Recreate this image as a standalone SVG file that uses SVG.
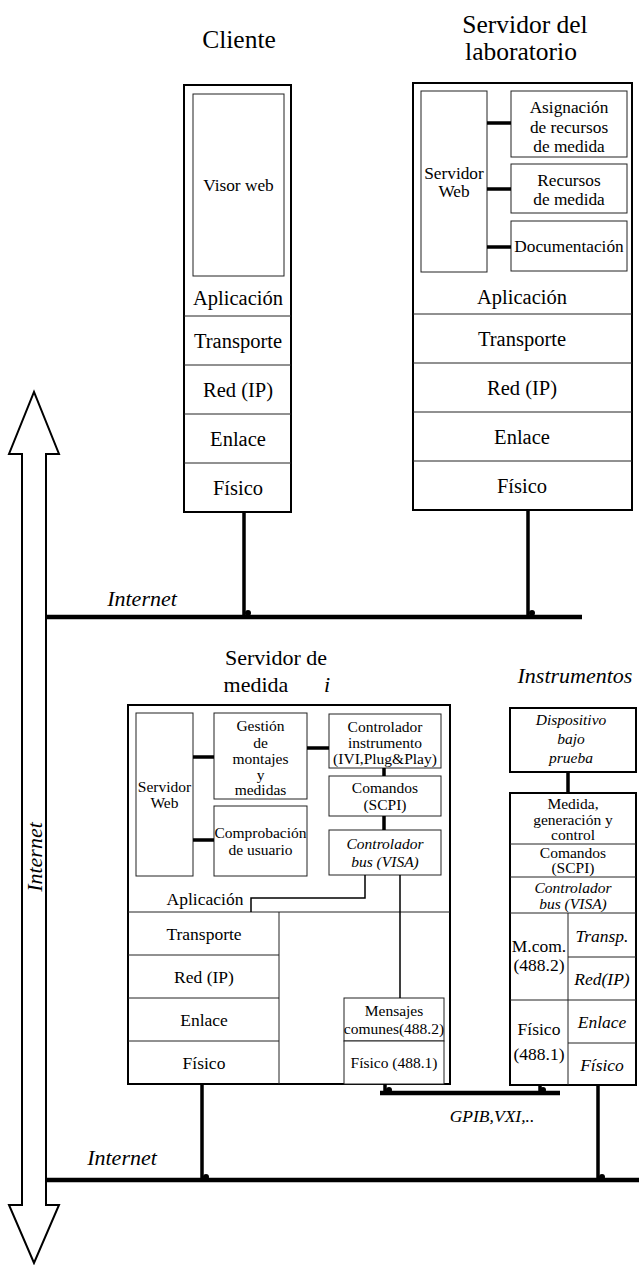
<svg xmlns="http://www.w3.org/2000/svg" width="639" height="1265" viewBox="0 0 639 1265" font-family="'Liberation Serif', 'Times New Roman', 'DejaVu Serif', serif">
  <style>
    text { font-family: 'Liberation Serif', 'Times New Roman', 'DejaVu Serif', serif; fill: #000; text-anchor: middle; }
    .it { font-style: italic; }
    .title { font-size: 25.5px; }
    .title2 { font-size: 22px; }
    .layer { font-size: 20.5px; }
    .layer2 { font-size: 17.5px; }
    .lbl { font-size: 17.3px; }
    .lbl2 { font-size: 15.5px; }
    .outer { fill: #fff; stroke: #000; stroke-width: 2; }
    .box { fill: #fff; stroke: #222; stroke-width: 1; }
    .div { stroke: #222; stroke-width: 1; fill: none; }
    .link { stroke: #000; stroke-width: 3.5; fill: none; }
    .wire { stroke: #000; stroke-width: 1.5; fill: none; }
    .net { stroke: #000; stroke-width: 4.5; fill: none; }
    .dot { fill: #000; }
  </style>

  <!-- Client -->
  <g id="cliente">
    <text class="title" x="239" y="48">Cliente</text>
    <rect class="outer" x="184" y="85" width="107" height="427"/>
    <rect class="box" x="193" y="94" width="91" height="182"/>
    <text class="lbl" x="238.5" y="191">Visor web</text>
    <text class="layer" x="238" y="305">Aplicación</text>
    <path class="div" d="M184 316H291M184 365H291M184 414H291M184 463H291"/>
    <text class="layer" x="238" y="348">Transporte</text>
    <text class="layer" x="238" y="397">Red (IP)</text>
    <text class="layer" x="238" y="446">Enlace</text>
    <text class="layer" x="238" y="495">Físico</text>
  </g>

  <!-- Lab server -->
  <g id="servidor-laboratorio">
    <text class="title" x="525" y="33">Servidor del</text>
    <text class="title" x="521" y="60">laboratorio</text>
    <rect class="outer" x="413" y="83" width="219" height="427"/>
    <rect class="box" x="421" y="91" width="66" height="181"/>
    <text class="lbl" x="454" y="179">Servidor</text>
    <text class="lbl" x="454" y="197">Web</text>
    <rect class="box" x="511" y="91" width="116" height="66"/>
    <text class="lbl" x="569" y="113">Asignación</text>
    <text class="lbl" x="569" y="133">de recursos</text>
    <text class="lbl" x="569" y="152">de medida</text>
    <rect class="box" x="511" y="164" width="116" height="49"/>
    <text class="lbl" x="569" y="186">Recursos</text>
    <text class="lbl" x="569" y="205">de medida</text>
    <rect class="box" x="511" y="221" width="116" height="50"/>
    <text class="lbl" x="569" y="252">Documentación</text>
    <path class="link" d="M487 123H511M487 189H511M487 247H511"/>
    <text class="layer" x="522" y="304">Aplicación</text>
    <path class="div" d="M413 314H632M413 363H632M413 412H632M413 461H632"/>
    <text class="layer" x="522" y="346">Transporte</text>
    <text class="layer" x="522" y="395">Red (IP)</text>
    <text class="layer" x="522" y="444">Enlace</text>
    <text class="layer" x="522" y="493">Físico</text>
  </g>

  <!-- Measurement server i -->
  <g id="servidor-medida">
    <text class="title2" x="276" y="665">Servidor de</text>
    <text class="title2" x="256" y="692">medida</text>
    <text class="title2 it" x="327" y="692">i</text>
    <rect class="outer" x="128" y="705" width="322" height="379"/>
    <rect class="box" x="136" y="713" width="57" height="163"/>
    <text class="lbl2" x="164.5" y="792">Servidor</text>
    <text class="lbl2" x="164.5" y="808">Web</text>
    <rect class="box" x="214" y="713" width="93" height="86"/>
    <text class="lbl2" x="260.5" y="731">Gestión</text>
    <text class="lbl2" x="260.5" y="748">de</text>
    <text class="lbl2" x="260.5" y="764">montajes</text>
    <text class="lbl2" x="260.5" y="780">y</text>
    <text class="lbl2" x="260.5" y="795">medidas</text>
    <rect class="box" x="214" y="806" width="93" height="70"/>
    <text class="lbl2" x="260.5" y="838">Comprobación</text>
    <text class="lbl2" x="260.5" y="855">de usuario</text>
    <rect class="box" x="329" y="714" width="112" height="54"/>
    <text class="lbl2" x="385" y="732">Controlador</text>
    <text class="lbl2" x="385" y="748">instrumento</text>
    <text class="lbl2" x="385" y="764">(IVI,Plug&amp;Play)</text>
    <rect class="box" x="329" y="776" width="112" height="40"/>
    <text class="lbl2" x="385" y="793">Comandos</text>
    <text class="lbl2" x="385" y="810">(SCPI)</text>
    <rect class="box" x="329" y="830" width="112" height="45"/>
    <text class="lbl2 it" x="385" y="849">Controlador</text>
    <text class="lbl2 it" x="385" y="867">bus (VISA)</text>
    <text class="layer2" x="205" y="905">Aplicación</text>
    <path class="div" d="M128 912H450M279 912V1084M128 955H279M128 998H279M128 1041H279"/>
    <text class="layer2" x="204" y="940">Transporte</text>
    <text class="layer2" x="204" y="983">Red (IP)</text>
    <text class="layer2" x="204" y="1026">Enlace</text>
    <text class="layer2" x="204" y="1069">Físico</text>
    <rect class="box" x="344" y="998" width="100" height="43"/>
    <text class="lbl2" x="394" y="1016">Mensajes</text>
    <text class="lbl2" x="394" y="1034">comunes(488.2)</text>
    <rect class="box" x="344" y="1041" width="100" height="43"/>
    <text class="lbl2" x="394" y="1068">Físico (488.1)</text>
  </g>

  <!-- Instruments -->
  <g id="instrumentos">
    <text class="title2 it" x="575" y="683">Instrumentos</text>
    <rect class="outer" x="510" y="708" width="126" height="64"/>
    <text class="lbl2 it" x="571" y="725">Dispositivo</text>
    <text class="lbl2 it" x="571" y="744">bajo</text>
    <text class="lbl2 it" x="571" y="763">prueba</text>
    <rect class="outer" x="510" y="793" width="126" height="292"/>
    <text class="lbl2" x="573" y="809">Medida,</text>
    <text class="lbl2" x="573" y="825">generación y</text>
    <text class="lbl2" x="573" y="840">control</text>
    <text class="lbl2" x="573" y="858">Comandos</text>
    <text class="lbl2" x="573" y="873">(SCPI)</text>
    <path class="div" d="M510 844H636M510 877H636M510 913H636M568 913V1085M568 957H636M568 1000H636M568 1043H636M510 1000H568"/>
    <text class="lbl2 it" x="573" y="893">Controlador</text>
    <text class="lbl2 it" x="573" y="909">bus (VISA)</text>
    <text class="layer2" x="539" y="952">M.com.</text>
    <text class="layer2" x="539" y="971">(488.2)</text>
    <text class="layer2" x="539" y="1035">Físico</text>
    <text class="layer2" x="539" y="1060">(488.1)</text>
    <text class="layer2 it" x="602" y="942">Transp.</text>
    <text class="layer2 it" x="602" y="985">Red(IP)</text>
    <text class="layer2 it" x="602" y="1028">Enlace</text>
    <text class="layer2 it" x="602" y="1071">Físico</text>
  </g>

  <!-- Internet backbone (double arrow) -->
  <g id="internet-flecha">
    <polygon points="22,454 9,454 34,392 59,454 46,454 46,1205 59,1205 34,1263 9,1205 22,1205" fill="#fff" stroke="#000" stroke-width="2"/>
    <text class="title2 it" transform="translate(42,857) rotate(-90)">Internet</text>
  </g>

  <!-- Connectors -->
  <g id="conexiones">
    <path class="net" d="M46 617H582"/>
    <path class="net" d="M46 1180H639"/>
    <path class="net" d="M380 1093H560"/>
    <path class="link" d="M244 512V617M528 510V617"/>
    <path class="link" d="M202 1084V1180M598 1085V1180"/>
    <path class="link" d="M385 1084V1093M540 1085V1093"/>
    <path class="link" d="M568 772V793"/>
    <path class="link" d="M193 757H214M193 840H214M307 748H329M384 768V776M384 816V830"/>
    <path class="wire" d="M365 875V898H251V912M400 875V998"/>
    <circle class="dot" cx="248" cy="613" r="3"/>
    <circle class="dot" cx="532" cy="613" r="3"/>
    <circle class="dot" cx="206" cy="1177" r="3"/>
    <circle class="dot" cx="602" cy="1177" r="3"/>
    <circle class="dot" cx="389" cy="1090" r="3"/>
    <circle class="dot" cx="543" cy="1090" r="3"/>
    <text class="title2 it" x="142" y="606">Internet</text>
    <text class="title2 it" x="122" y="1165">Internet</text>
    <text class="layer2 it" x="492" y="1122">GPIB,VXI,..</text>
  </g>
</svg>
